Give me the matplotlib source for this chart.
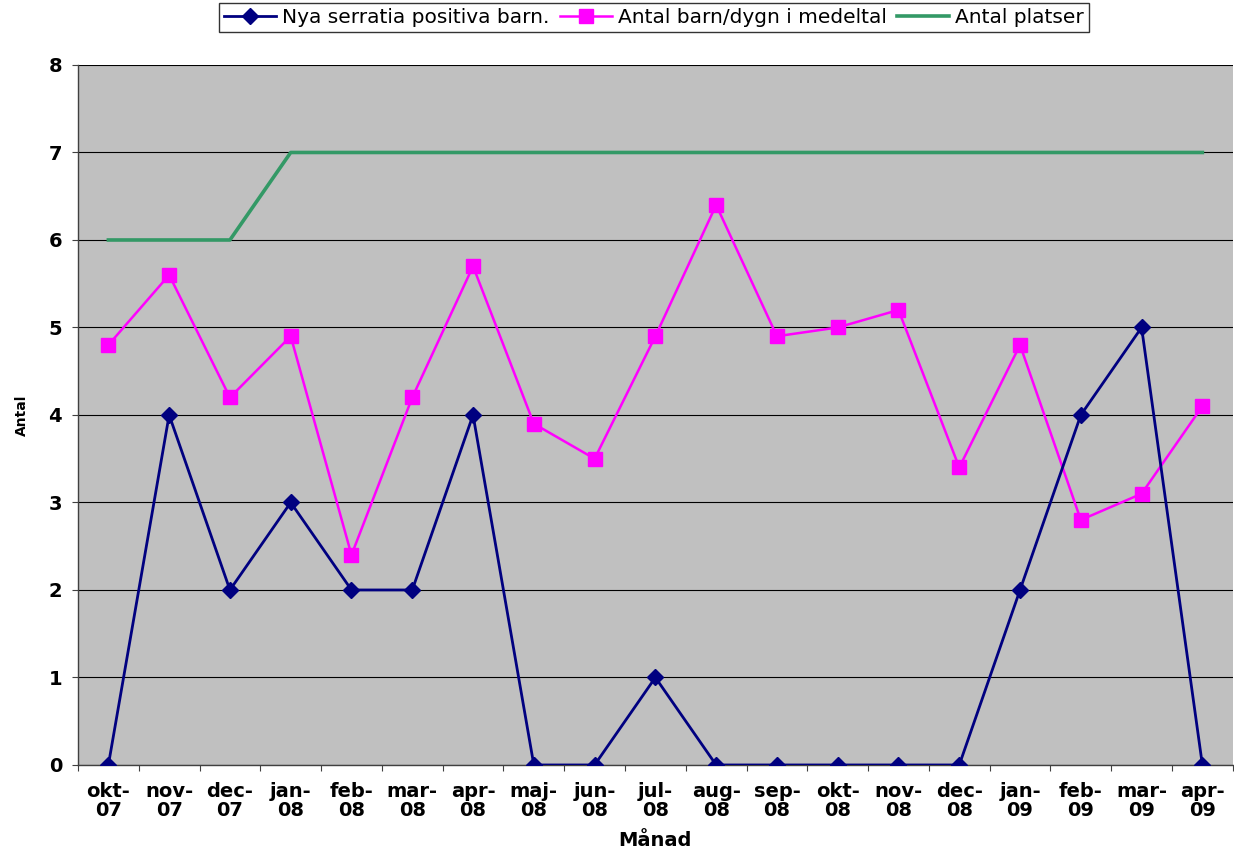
import matplotlib.pyplot as plt

plt.rcParams['font.family'] = ['DejaVu Sans']

# data
months = ['okt-\n07', 'nov-\n07', 'dec-\n07', 'jan-\n08', 'feb-\n08', 'mar-\n08', 'apr-\n08',
          'maj-\n08', 'jun-\n08', 'jul-\n08', 'aug-\n08', 'sep-\n08', 'okt-\n08', 'nov-\n08',
          'dec-\n08', 'jan-\n09', 'feb-\n09', 'mar-\n09', 'apr-\n09']
nya_serratia = [0, 4, 2, 3, 2, 2, 4, 0, 0, 1, 0, 0, 0, 0, 0, 2, 4, 5, 0]
barn_per_dygn = [4.8, 5.6, 4.2, 4.9, 2.4, 4.2, 5.7, 3.9, 3.5, 4.9, 6.4, 4.9, 5.0, 5.2,
                 3.4, 4.8, 2.8, 3.1, 4.1]
platser = [6, 6, 6, 7, 7, 7, 7, 7, 7, 7, 7, 7, 7, 7, 7, 7, 7, 7, 7]

x = list(range(len(months)))

fig = plt.figure(figsize=(12.34, 8.55), dpi=100)
ax = fig.add_axes([0.0632, 0.1053, 0.9358, 0.8187])
ax.set_facecolor('#c0c0c0')

ax.plot(x, nya_serratia, color='#000080', lw=2, marker='D', markersize=8,
        label='Nya serratia positiva barn.', zorder=4)
ax.plot(x, barn_per_dygn, color='#ff00ff', lw=1.8, marker='s', markersize=10.5,
        label='Antal barn/dygn i medeltal', zorder=3)
ax.plot(x, platser, color='#339966', lw=2.6, label='Antal platser', zorder=2)

ax.set_xlim(-0.5, len(months) - 0.5)
ax.set_ylim(0, 8)
ax.set_yticks(range(9))
ax.yaxis.grid(True, color='black', lw=0.8)
ax.set_axisbelow(True)

# ticks between the categories, labels at the categories
ax.set_xticks([i - 0.5 for i in range(len(months) + 1)], minor=False)
ax.set_xticklabels([])
ax.set_xticks(x, minor=True)
ax.set_xticklabels(months, minor=True, fontsize=14, fontweight='bold', linespacing=1.05)
ax.tick_params(axis='x', which='minor', length=0, pad=12)
ax.tick_params(axis='x', which='major', length=4.5, direction='out', color='#404040')
ax.tick_params(axis='y', labelsize=14, length=4.5, color='#404040', pad=7)
for lab in ax.get_yticklabels():
    lab.set_fontweight('bold')

for s in ax.spines.values():
    s.set_color('#404040')
    s.set_linewidth(1)
ax.spines['top'].set_visible(False)
ax.spines['right'].set_visible(False)

ax.set_xlabel('Månad', fontsize=14, fontweight='bold', labelpad=8)
ax.set_ylabel('Antal', fontsize=10, fontweight='bold', labelpad=14)

leg = fig.legend(loc='upper center', bbox_to_anchor=(0.53, 0.997), ncol=3, fontsize=14.5,
                 frameon=True, fancybox=False, edgecolor='black', handlelength=2.6,
                 columnspacing=0.5, handletextpad=0.3, borderpad=0.25, borderaxespad=0)
leg.get_frame().set_linewidth(1)

fig.savefig('out.png', dpi=100)
